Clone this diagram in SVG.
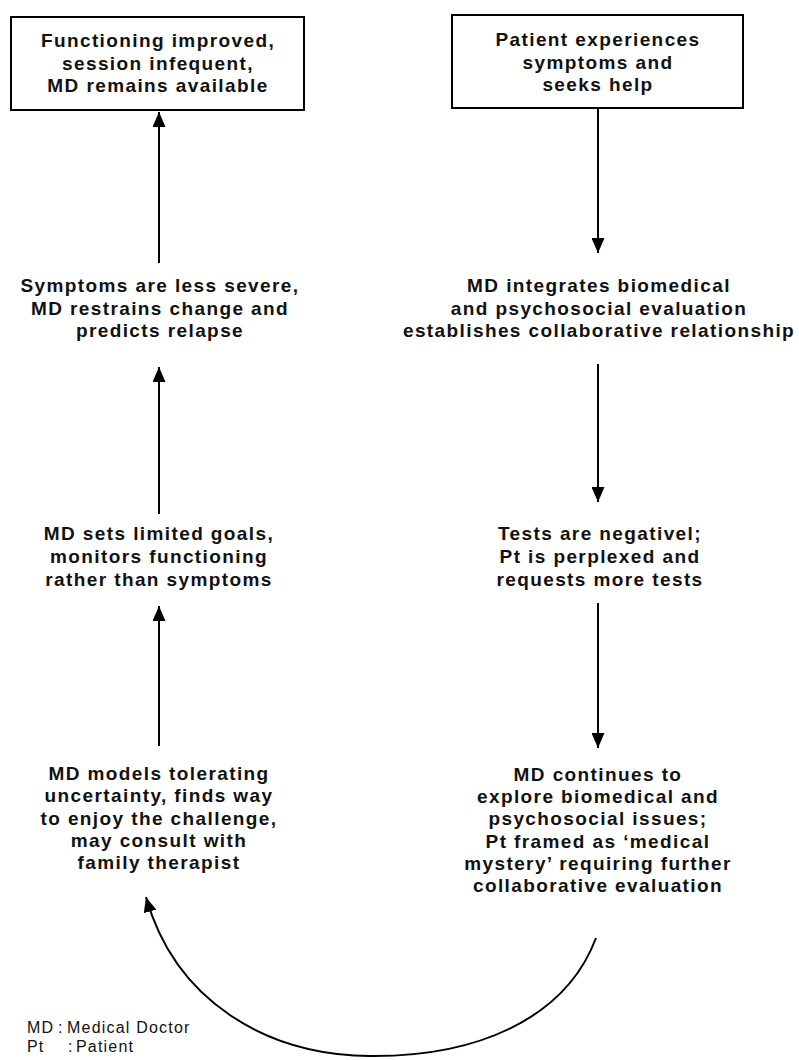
<svg xmlns="http://www.w3.org/2000/svg" width="799" height="1060" viewBox="0 0 799 1060">
<style>
.bg{fill:#ffffff}
.box{fill:#ffffff;stroke:#000;stroke-width:2}
.t{font-family:"Liberation Sans",Arial,sans-serif;font-weight:bold;font-size:19px;letter-spacing:1.4px;fill:#111;text-anchor:middle}
.lg{font-family:"Liberation Sans",Arial,sans-serif;font-size:16px;letter-spacing:1.2px;fill:#111}
.ln{fill:none;stroke:#000;stroke-width:2}
</style>
<defs>
<marker id="ah" viewBox="0 0 15 13" refX="15" refY="6.5" markerWidth="15" markerHeight="13" markerUnits="userSpaceOnUse" orient="auto">
<path d="M0,0 L15,6.5 L0,13 z" fill="#000"/>
</marker>
</defs>
<rect class="bg" x="0" y="0" width="799" height="1060"/>

<g id="n1">
<rect class="box" x="11" y="17" width="293" height="93"/>
<text class="t" x="158" y="47">Functioning improved,</text>
<text class="t" x="158" y="69.5">session infequent,</text>
<text class="t" x="158" y="92">MD remains available</text>
</g>
<g id="n2">
<rect class="box" x="452" y="15" width="291" height="93"/>
<text class="t" x="598" y="46">Patient experiences</text>
<text class="t" x="598" y="68.5">symptoms and</text>
<text class="t" x="598" y="91">seeks help</text>
</g>
<g id="n3">
<text class="t" x="160" y="292">Symptoms are less severe,</text>
<text class="t" x="160" y="314.5">MD restrains change and</text>
<text class="t" x="160" y="337">predicts relapse</text>
</g>
<g id="n4">
<text class="t" x="599" y="292">MD integrates biomedical</text>
<text class="t" x="599" y="314.5">and psychosocial evaluation</text>
<text class="t" x="599" y="337">establishes collaborative relationship</text>
</g>
<g id="n5">
<text class="t" x="159" y="540">MD sets limited goals,</text>
<text class="t" x="159" y="563">monitors functioning</text>
<text class="t" x="159" y="586">rather than symptoms</text>
</g>
<g id="n6">
<text class="t" x="600" y="540">Tests are negativel;</text>
<text class="t" x="600" y="563">Pt is perplexed and</text>
<text class="t" x="600" y="586">requests more tests</text>
</g>
<g id="n7">
<text class="t" x="159" y="780">MD models tolerating</text>
<text class="t" x="159" y="802">uncertainty, finds way</text>
<text class="t" x="159" y="824.5">to enjoy the challenge,</text>
<text class="t" x="159" y="847">may consult with</text>
<text class="t" x="159" y="869">family therapist</text>
</g>
<g id="n8">
<text class="t" x="598" y="781">MD continues to</text>
<text class="t" x="598" y="803">explore biomedical and</text>
<text class="t" x="598" y="825">psychosocial issues;</text>
<text class="t" x="598" y="847.5">Pt framed as ‘medical</text>
<text class="t" x="598" y="870">mystery’ requiring further</text>
<text class="t" x="598" y="892">collaborative evaluation</text>
</g>

<g id="connectors">
<path class="ln" d="M159 263 L159 112" marker-end="url(#ah)"/>
<path class="ln" d="M159 514 L159 367" marker-end="url(#ah)"/>
<path class="ln" d="M159 746 L159 606" marker-end="url(#ah)"/>
<path class="ln" d="M598 108 L598 253" marker-end="url(#ah)"/>
<path class="ln" d="M598 364 L598 502" marker-end="url(#ah)"/>
<path class="ln" d="M598 603 L598 748" marker-end="url(#ah)"/>
<path class="ln" d="M596 938 C565 1020 475 1057 370 1056 C265 1055 175 1000 146 897" marker-end="url(#ah)"/>
</g>

<g id="legend">
<text class="lg" y="1033"><tspan x="27">MD</tspan><tspan x="58">:</tspan><tspan x="67">Medical Doctor</tspan></text>
<text class="lg" y="1052"><tspan x="27">Pt</tspan><tspan x="68">:</tspan><tspan x="76">Patient</tspan></text>
</g>
</svg>
